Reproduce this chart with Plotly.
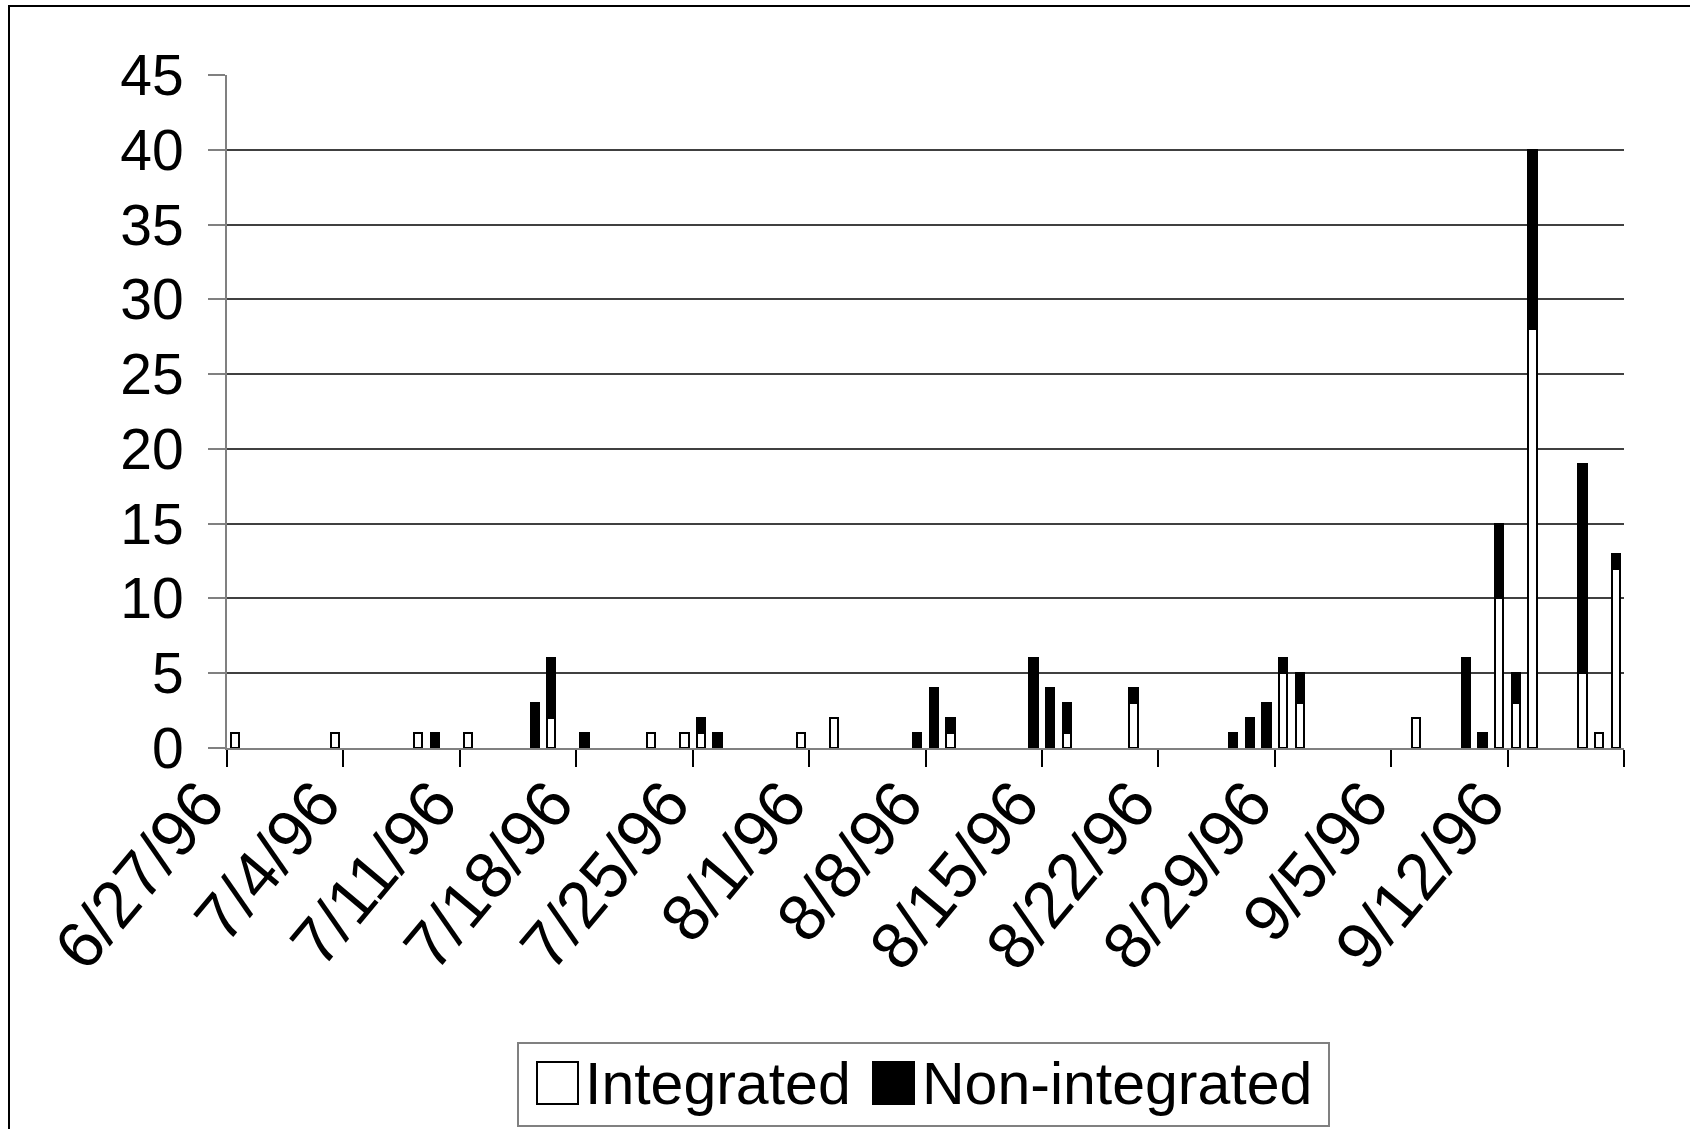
import plotly.graph_objects as go

# ---- data ----
dates = ["1996-06-27", "1996-07-03", "1996-07-08", "1996-07-09", "1996-07-11",
         "1996-07-15", "1996-07-16", "1996-07-18", "1996-07-22", "1996-07-24",
         "1996-07-25", "1996-07-26", "1996-07-31", "1996-08-02", "1996-08-07",
         "1996-08-08", "1996-08-09", "1996-08-14", "1996-08-15", "1996-08-16",
         "1996-08-20", "1996-08-26", "1996-08-27", "1996-08-28", "1996-08-29",
         "1996-08-30", "1996-09-06", "1996-09-09", "1996-09-10", "1996-09-11",
         "1996-09-12", "1996-09-13", "1996-09-16", "1996-09-17", "1996-09-18"]
integrated = [1, 1, 1, 0, 1, 0, 2, 0, 1, 1, 1, 0, 1, 2, 0, 0, 1, 0, 0, 1,
              3, 0, 0, 0, 5, 3, 2, 0, 0, 10, 3, 28, 5, 1, 12]
non_integrated = [0, 0, 0, 1, 0, 3, 4, 1, 0, 0, 1, 1, 0, 0, 1, 4, 1, 6, 4, 2,
                  1, 1, 2, 3, 1, 2, 0, 6, 1, 5, 2, 12, 14, 0, 1]
tick_dates = ["1996-06-27", "1996-07-04", "1996-07-11", "1996-07-18", "1996-07-25",
              "1996-08-01", "1996-08-08", "1996-08-15", "1996-08-22", "1996-08-29",
              "1996-09-05", "1996-09-12", "1996-09-19"]
tick_labels = ["6/27/96", "7/4/96", "7/11/96", "7/18/96", "7/25/96", "8/1/96",
               "8/8/96", "8/15/96", "8/22/96", "8/29/96", "9/5/96", "9/12/96", ""]
series_names = ["Integrated", "Non-integrated"]

FONT = "Liberation Sans, Arial, sans-serif"
DAY = 86400000
W, H = 1690, 1129
ML, MR, MT, MB = 227, 66, 75, 381
PW, PH = W - ML - MR, H - MT - MB


def px2x(px):
    return (px - ML) / PW


def py2y(py):
    return (H - MB - py) / PH


fig = go.Figure()
fig.add_trace(go.Bar(
    x=dates, y=[v if v else None for v in integrated], name=series_names[0],
    width=0.5 * DAY, xperiod=DAY, xperiodalignment="middle",
    marker=dict(color="white", line=dict(color="black", width=2)),
    showlegend=False))
fig.add_trace(go.Bar(
    x=dates, y=[v if v else None for v in non_integrated], name=series_names[1],
    width=0.5 * DAY, xperiod=DAY, xperiodalignment="middle",
    marker=dict(color="black", line=dict(color="black", width=2)),
    showlegend=False))

shapes = [
    # outer chart border
    dict(type="rect", xref="paper", yref="paper",
         x0=px2x(9), x1=px2x(1720), y0=py2y(1160), y1=py2y(6),
         line=dict(color="black", width=2), layer="below"),
    # legend box
    dict(type="rect", xref="paper", yref="paper",
         x0=px2x(518), x1=px2x(1329), y0=py2y(1126), y1=py2y(1043),
         line=dict(color="#808080", width=2), fillcolor="white"),
    dict(type="rect", xref="paper", yref="paper",
         x0=px2x(537), x1=px2x(578), y0=py2y(1104), y1=py2y(1062),
         line=dict(color="black", width=2), fillcolor="white"),
    dict(type="rect", xref="paper", yref="paper",
         x0=px2x(873), x1=px2x(914), y0=py2y(1104), y1=py2y(1062),
         line=dict(color="black", width=2), fillcolor="black"),
]
annotations = [
    dict(xref="paper", yref="paper", x=px2x(583), y=py2y(1084),
         xanchor="left", yanchor="middle", showarrow=False, text=series_names[0],
         font=dict(family=FONT, size=59, color="black")),
    dict(xref="paper", yref="paper", x=px2x(920), y=py2y(1084),
         xanchor="left", yanchor="middle", showarrow=False, text=series_names[1],
         font=dict(family=FONT, size=59, color="black")),
]

fig.update_layout(
    width=W, height=H,
    margin=dict(l=ML, r=MR, t=MT, b=MB, pad=0),
    barmode="stack", bargap=0,
    paper_bgcolor="white", plot_bgcolor="white",
    font=dict(family=FONT, size=57, color="black"),
    shapes=shapes, annotations=annotations,
    showlegend=False,
)
fig.update_xaxes(
    type="date", range=["1996-06-27", "1996-09-19"],
    tickmode="array", tickvals=tick_dates, ticktext=tick_labels,
    tickangle=-50, ticks="outside", ticklen=17, tickwidth=1.5, tickcolor="black",
    showline=True, linecolor="#808080", linewidth=2, showgrid=False,
    zeroline=False, tickfont=dict(family=FONT, size=66, color="black"),
    ticklabelstandoff=-29, ticklabelshift=-25,
)
fig.update_yaxes(
    range=[0, 45], tickmode="linear", tick0=0, dtick=5,
    ticks="outside", ticklen=17, tickwidth=2, tickcolor="#808080",
    showline=True, linecolor="#808080", linewidth=2,
    showgrid=True, gridcolor="#404040", gridwidth=1.5, zeroline=False,
    ticklabelstandoff=13,
    tickfont=dict(family=FONT, size=57, color="black"),
)

fig.write_html("out.html", config={"displayModeBar": False},
               post_script="document.body.style.margin='0';"
                           "document.body.style.overflow='hidden';")
